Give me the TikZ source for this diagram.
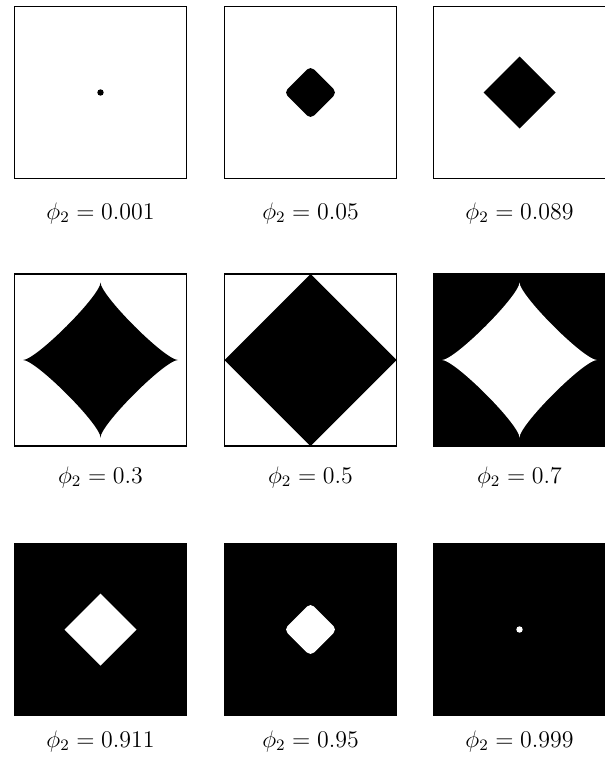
\documentclass[tikz,border=0pt]{standalone}
\usepackage{amsmath,amssymb}
\usepackage{tikz}
\usetikzlibrary{positioning}

\begin{document}
\begin{tikzpicture}[x=0.5bp, y=-0.5bp,
    panel/.style={draw, line width=0.7pt, minimum size=86bp, inner sep=0pt, outer sep=0pt},
    dark/.style={panel, fill=black},
    lbl/.style={font=\large, anchor=base, inner sep=0pt}
]
    \useasboundingbox (0,0) rectangle (605,760);
    % row 1
    \node[panel] (p1) at (100.5,92.5) {};
    \node[panel] (p2) at (310.5,92.5) {};
    \node[panel] (p3) at (519.5,92.5) {};
    \fill (p1.center) circle (3.2);
    \fill[rounded corners=2.5] (p2.center) ++(0,-26.5) -- ++(26.5,26.5) -- ++(-26.5,26.5) -- ++(-26.5,-26.5) -- cycle;
    \fill (p3.center) ++(0,-36) -- ++(36,36) -- ++(-36,36) -- ++(-36,-36) -- cycle;
    \node[lbl] (l1) at (100.5,219) {$\phi_2 = 0.001$};
    \node[lbl] (l2) at (310.5,219) {$\phi_2 = 0.05$};
    \node[lbl] (l3) at (519.5,219) {$\phi_2 = 0.089$};
    % row 2
    \node[panel] (p4) at (100.5,360) {};
    \node[panel] (p5) at (310.5,360) {};
    \node[dark] (p6) at (519.5,360) {};
    \fill (p4.center) ++(77.5,0)
        .. controls +(-13,0) and +(0,13) .. ++(-77.5,-77.5)
        .. controls +(0,13) and +(13,0) .. ++(-77.5,77.5)
        .. controls +(13,0) and +(0,-13) .. ++(77.5,77.5)
        .. controls +(0,-13) and +(-13,0) .. ++(77.5,-77.5) -- cycle;
    \fill (p5.north) -- (p5.east) -- (p5.south) -- (p5.west) -- cycle;
    \fill[white] (p6.center) ++(77.5,0)
        .. controls +(-13,0) and +(0,13) .. ++(-77.5,-77.5)
        .. controls +(0,13) and +(13,0) .. ++(-77.5,77.5)
        .. controls +(13,0) and +(0,-13) .. ++(77.5,77.5)
        .. controls +(0,-13) and +(-13,0) .. ++(77.5,-77.5) -- cycle;
    \node[lbl] (l4) at (100.5,483) {$\phi_2 = 0.3$};
    \node[lbl] (l5) at (310.5,483) {$\phi_2 = 0.5$};
    \node[lbl] (l6) at (519.5,483) {$\phi_2 = 0.7$};
    % row 3
    \node[dark] (p7) at (100.5,629.5) {};
    \node[dark] (p8) at (310.5,629.5) {};
    \node[dark] (p9) at (519.5,629.5) {};
    \fill[white] (p7.center) ++(0,-36) -- ++(36,36) -- ++(-36,36) -- ++(-36,-36) -- cycle;
    \fill[white, rounded corners=2.5] (p8.center) ++(0,-26.5) -- ++(26.5,26.5) -- ++(-26.5,26.5) -- ++(-26.5,-26.5) -- cycle;
    \fill[white] (p9.center) circle (3.2);
    \node[lbl] (l7) at (100.5,747) {$\phi_2 = 0.911$};
    \node[lbl] (l8) at (310.5,747) {$\phi_2 = 0.95$};
    \node[lbl] (l9) at (519.5,747) {$\phi_2 = 0.999$};
\end{tikzpicture}
\end{document}
